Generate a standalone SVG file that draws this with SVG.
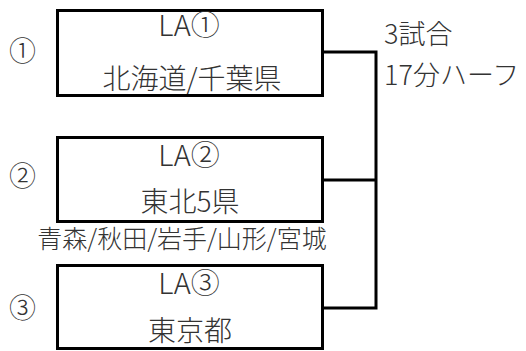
<svg xmlns="http://www.w3.org/2000/svg" width="526" height="351" viewBox="0 0 526 351">
<style>
text{font-family:"Noto Sans CJK JP","Noto Sans",sans-serif;font-weight:300;font-size:27px;fill:#333;}
.c{text-anchor:middle;}
.la{font-size:29px;}
.big{font-size:28px;}
.sub{font-size:25px;}
.box{fill:#fff;stroke:#000;stroke-width:3;}
.ln{fill:none;stroke:#000;stroke-width:3;}
</style>
<g id="connectors">
<polyline class="ln" points="323,52 376,52 376,308 323,308"/>
<line class="ln" x1="323" y1="180" x2="376" y2="180"/>
</g>
<g id="node1">
<rect class="box" x="57.5" y="10.5" width="265" height="85"/>
<text class="c la" x="189" y="36">LA①</text>
<text class="c big" x="192" y="89">北海道/千葉県</text>
</g>
<g id="node2">
<rect class="box" x="57.5" y="137.5" width="265" height="84"/>
<text class="c la" x="189" y="166">LA②</text>
<text class="c big" x="190" y="212">東北5県</text>
</g>
<g id="node3">
<rect class="box" x="57.5" y="265.5" width="265" height="83"/>
<text class="c la" x="189" y="294">LA③</text>
<text class="c big" x="190" y="341">東京都</text>
</g>
<text x="9" y="61">①</text>
<text x="9" y="186">②</text>
<text x="9" y="318">③</text>
<text x="384" y="44">3試合</text>
<text x="384" y="85">17分ハーフ</text>
<text class="c sub" x="182" y="248">青森/秋田/岩手/山形/宮城</text>
</svg>
